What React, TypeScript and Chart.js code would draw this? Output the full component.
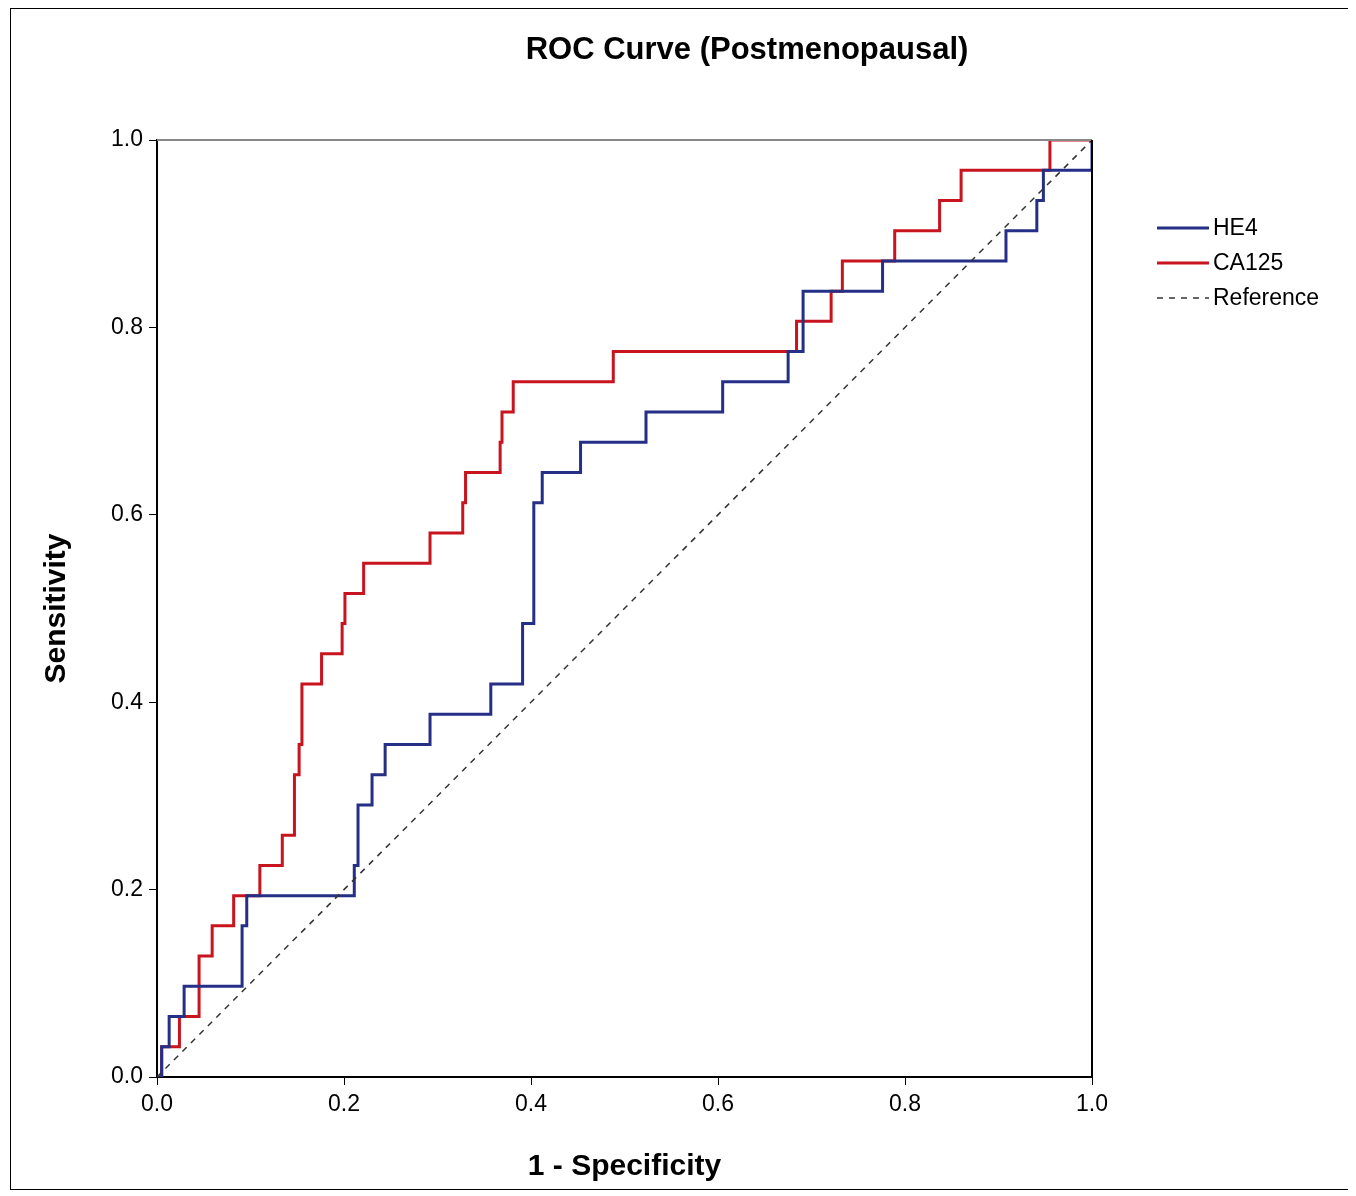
import React, { useEffect, useRef } from "react";
import { Chart, registerables } from "chart.js";

Chart.register(...registerables);

// step points: 1 - specificity where the curve rises, sensitivity level (k/31) after the rise
const he4X = [0.005, 0.013, 0.029, 0.091, 0.096, 0.211, 0.215, 0.23, 0.244, 0.292, 0.357, 0.391, 0.403, 0.412, 0.453, 0.523, 0.605, 0.675, 0.691, 0.776, 0.908, 0.941, 0.948, 1.0];
const he4K = [1, 2, 3, 5, 6, 7, 9, 10, 11, 12, 13, 15, 19, 20, 21, 22, 23, 24, 26, 27, 28, 29, 30, 31];
const caX = [0.005, 0.024, 0.045, 0.059, 0.082, 0.11, 0.134, 0.147, 0.152, 0.155, 0.176, 0.198, 0.201, 0.221, 0.292, 0.327, 0.33, 0.367, 0.369, 0.381, 0.488, 0.684, 0.721, 0.733, 0.789, 0.837, 0.86, 0.955];
const caK = [1, 2, 4, 5, 6, 7, 8, 10, 11, 13, 14, 15, 16, 17, 18, 19, 20, 21, 22, 23, 24, 25, 26, 27, 28, 29, 30, 31];
const positives = 31;
const axisTicks = [0, 0.2, 0.4, 0.6, 0.8, 1.0];

const FONT = "'Liberation Sans', Arial, sans-serif";
const HE4_COLOR = "#262f86";
const CA_COLOR = "#c8141e";

function steps(xs: number[], ks: number[]) {
  const pts = [{ x: 0, y: 0 }];
  let y = 0;
  xs.forEach((x, i) => {
    pts.push({ x, y });
    y = ks[i] / positives;
    pts.push({ x, y });
  });
  pts.push({ x: 1, y });
  return pts;
}

const decor = {
  id: "decor",
  afterDraw(chart: any) {
    const { ctx, chartArea: a } = chart;
    ctx.save();
    ctx.strokeStyle = "#888";
    ctx.lineWidth = 2;
    ctx.beginPath();
    ctx.moveTo(a.left, a.top);
    ctx.lineTo(a.right, a.top);
    ctx.stroke();
    ctx.strokeStyle = "#000";
    ctx.beginPath();
    ctx.moveTo(a.right, a.top);
    ctx.lineTo(a.right, a.bottom);
    ctx.stroke();
    ctx.fillStyle = "#000";
    ctx.font = `bold 31px ${FONT}`;
    ctx.textAlign = "center";
    ctx.textBaseline = "middle";
    ctx.fillText("ROC Curve (Postmenopausal)", 736, 41);
    const items: [string, string, number[]][] = [
      ["HE4", HE4_COLOR, []],
      ["CA125", CA_COLOR, []],
      ["Reference", "#333", [6, 6]],
    ];
    ctx.font = `23px ${FONT}`;
    ctx.textAlign = "left";
    items.forEach(([label, color, dash], i) => {
      const y = 219 + i * 35;
      ctx.strokeStyle = color;
      ctx.lineWidth = dash.length ? 1.5 : 3;
      ctx.setLineDash(dash);
      ctx.beginPath();
      ctx.moveTo(1146, y);
      ctx.lineTo(1198, y);
      ctx.stroke();
      ctx.setLineDash([]);
      ctx.fillText(label, 1202, y + 1);
    });
    ctx.restore();
  },
};

export default function App() {
  const ref = useRef<HTMLCanvasElement>(null);

  useEffect(() => {
    if (!ref.current) return;
    const tickFont = { family: FONT, size: 23 };
    const titleFont = { family: FONT, size: 30, weight: "bold" as const };
    const chart = new Chart(ref.current, {
      type: "line",
      data: {
        datasets: [
          { label: "Reference", data: [{ x: 0, y: 0 }, { x: 1, y: 1 }], borderColor: "#333", borderWidth: 1.5, borderDash: [6, 6], pointRadius: 0 },
          { label: "HE4", data: steps(he4X, he4K), borderColor: HE4_COLOR, borderWidth: 3, pointRadius: 0 },
          { label: "CA125", data: steps(caX, caK), borderColor: CA_COLOR, borderWidth: 3, pointRadius: 0 },
        ],
      },
      options: {
        animation: false,
        responsive: false,
        layout: { padding: { top: 131, right: 257, left: 24, bottom: 0 } },
        plugins: { legend: { display: false }, tooltip: { enabled: false } },
        scales: {
          x: {
            type: "linear",
            min: 0,
            max: 1,
            afterBuildTicks: (s: any) => { s.ticks = axisTicks.map((v) => ({ value: v })); },
            afterFit: (s: any) => { s.height = 112; },
            ticks: { font: tickFont, color: "#000", callback: (v: any) => Number(v).toFixed(1), padding: 6 },
            grid: { drawOnChartArea: false, tickLength: 8, color: "#000" },
            border: { color: "#000", width: 2 },
            title: { display: true, text: "1 - Specificity", font: titleFont, color: "#000", padding: { top: 32 } },
          },
          y: {
            type: "linear",
            min: 0,
            max: 1,
            afterBuildTicks: (s: any) => { s.ticks = axisTicks.map((v) => ({ value: v })); },
            afterFit: (s: any) => { s.width = 122; },
            ticks: { font: tickFont, color: "#000", callback: (v: any) => Number(v).toFixed(1), padding: 6 },
            grid: { drawOnChartArea: false, tickLength: 8, color: "#000" },
            border: { color: "#000", width: 2 },
            title: { display: true, text: "Sensitivity", font: titleFont, color: "#000", padding: { bottom: 22 } },
          },
        },
      },
      plugins: [decor],
    });
    return () => chart.destroy();
  }, []);

  return (
    <div style={{ width: 1338, height: 1180, border: "1px solid #000", marginLeft: 2 }}>
      <canvas ref={ref} width={1338} height={1180} style={{ display: "block" }} />
    </div>
  );
}
